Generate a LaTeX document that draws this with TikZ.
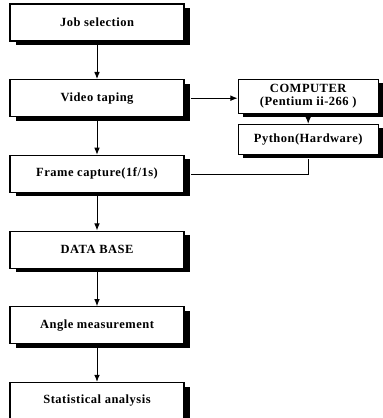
\documentclass[tikz,border=0pt]{standalone}
\usepackage{fontspec}
\setmainfont{Liberation Serif}[LetterSpace=4]
\usepackage{tikz}
\usetikzlibrary{arrows.meta,positioning}

\begin{document}
\begin{tikzpicture}[
    x=1pt, y=-1pt,
    node distance=37.5pt and 53pt,
    stage/.style={draw, line width=1.2pt, fill=white, align=center, font=\bfseries\fontsize{12.5}{14}\selectfont,
      minimum width=174pt, minimum height=37pt, inner sep=0pt,
      preaction={fill=black, transform canvas={xshift=6pt, yshift=-4pt}}},
    unit/.style={draw, line width=1.2pt, fill=white, align=center, font=\bfseries\fontsize{12.5}{13}\selectfont,
      minimum width=140pt, inner sep=0pt,
      preaction={fill=black, transform canvas={xshift=5pt, yshift=-4pt}}},
    arrow/.style={-{Latex[length=2.5mm, width=2mm]}, line width=1pt}
  ]
    \useasboundingbox (0,0) rectangle (383,418);

    \node[stage] (job) at (97,22.5) {Job selection};
    \node[stage, below=of job] (video) {Video taping};
    \node[stage, below=of video] (frame) {Frame capture(1f/1s)};
    \node[stage, below=of frame] (db) {DATA BASE};
    \node[stage, below=of db] (angle) {Angle measurement};
    \node[stage, below=of angle] (stat) {Statistical analysis};

    \node[unit, right=of video, minimum height=34pt, yshift=2pt] (pc) {COMPUTER\\(Pentium ii-266 )};
    \node[unit, below=10pt of pc, minimum height=30pt] (py) {Python(Hardware)};

    \draw[arrow] (job.south) -- (video.north);
    \draw[arrow] (video.south) -- (frame.north);
    \draw[arrow] (frame.south) -- (db.north);
    \draw[arrow] (db.south) -- (angle.north);
    \draw[arrow] (angle.south) -- (stat.north);
    \draw[arrow] ([xshift=6pt]video.east) -- (video.east -| pc.west);
    \draw[arrow] (pc.south) -- (py.north);
    \draw[line width=1pt] ([yshift=-4pt]py.south) |- ([xshift=6pt, yshift=-1pt]frame.east);
\end{tikzpicture}
\end{document}
